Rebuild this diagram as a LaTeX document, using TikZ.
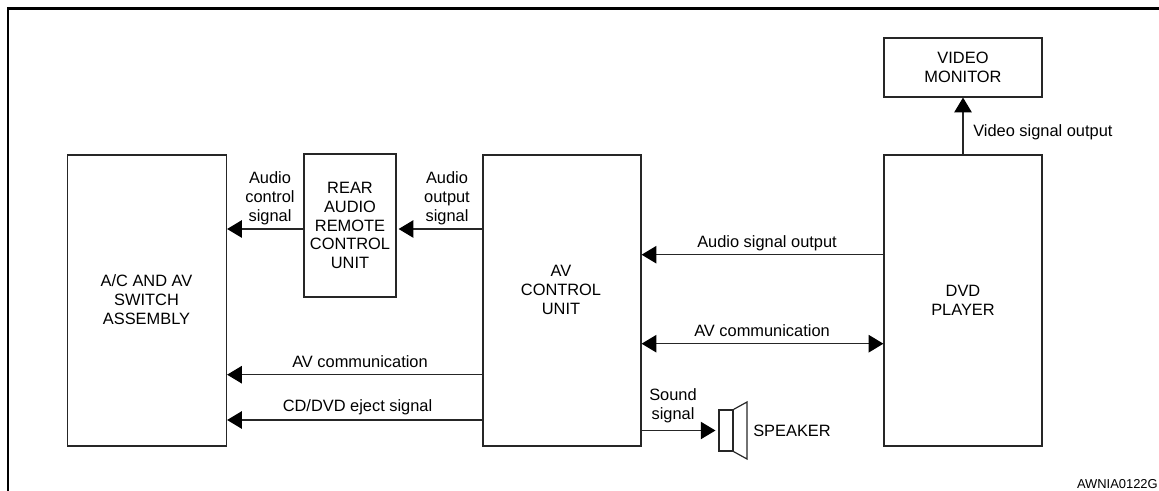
\documentclass[tikz,border=0pt]{standalone}
\usepackage{fontspec}
\setmainfont{Liberation Sans}
\usetikzlibrary{arrows.meta}
\tikzstyle{boxStyle}=[shape = rectangle, draw = black!85, line width = 0.9pt, inner sep = 0pt, align = center]
\tikzstyle{sigStyle}=[draw = black!85, line width = 0.9pt, -{Triangle[length = 11pt, width = 13pt, color = black]}]
\tikzstyle{bothStyle}=[draw = black!85, line width = 0.9pt, {Triangle[length = 11pt, width = 13pt, color = black]}-{Triangle[length = 11pt, width = 13pt, color = black]}]
\tikzstyle{labelStyle}=[inner sep = 0pt, align = center, font = \fontsize{12.3pt}{14.2pt}\selectfont]
\begin{document}
\begin{tikzpicture}[x = 0.75pt, y = -0.75pt, font = \fontsize{12.3pt}{14.2pt}\selectfont]
\useasboundingbox (0,0) rectangle (1159,491);
\draw[line width = 2.2pt, black] (8,491) -- (8,8.5) -- (1159,8.5);
\node[boxStyle, minimum width = 119.25pt, minimum height = 218.25pt] (vAssembly) at (147,300.5) {};
\node[boxStyle, minimum width = 69pt, minimum height = 107.25pt] (vRear) at (350,225.5) {REAR\\AUDIO\\REMOTE\\CONTROL\\UNIT};
\node[boxStyle, minimum width = 118.5pt, minimum height = 218.25pt] (vControl) at (562,300.5) {};
\node[boxStyle, minimum width = 118.5pt, minimum height = 218.25pt] (vPlayer) at (963,300.5) {DVD\\PLAYER};
\node[boxStyle, minimum width = 118.5pt, minimum height = 44.25pt] (vMonitor) at (963,67.5) {VIDEO\\MONITOR};
\node[boxStyle, minimum width = 10.5pt, minimum height = 30.75pt] (vSpeaker) at (726,430.5) {};
\draw[draw = black!85, line width = 0.9pt] (vSpeaker.north east) -- (747,402) -- (747,459) -- (vSpeaker.south east);
\coordinate (yAudio) at (0,229);
\coordinate (yOutput) at (0,254.7);
\coordinate (yPlayer) at (0,343.7);
\coordinate (yComm) at (0,374.7);
\coordinate (yEject) at (0,420);
\draw[sigStyle] (vRear.west |- yAudio) -- (vAssembly.east |- yAudio);
\draw[sigStyle, shorten > = 1.5pt] (vControl.west |- yAudio) -- (vRear.east |- yAudio);
\draw[sigStyle] (vPlayer.west |- yOutput) -- (vControl.east |- yOutput);
\draw[bothStyle] (vControl.east |- yPlayer) -- (vPlayer.west |- yPlayer);
\draw[sigStyle] (vControl.west |- yComm) -- (vAssembly.east |- yComm);
\draw[sigStyle] (vControl.west |- yEject) -- (vAssembly.east |- yEject);
\draw[sigStyle, shorten > = 2.2pt] (vControl.east |- vSpeaker.west) -- (vSpeaker.west);
\draw[sigStyle] (vPlayer.north) -- (vMonitor.south);
\node[labelStyle] (lAssembly) at (146.5,299.5) {A/C AND AV\\SWITCH\\ASSEMBLY};
\node[labelStyle] (lUnit) at (561,290) {AV\\CONTROL\\UNIT};
\node[labelStyle] (lControl) at (270,198) {Audio\\control\\signal};
\node[labelStyle] (lOutput) at (447,198) {Audio\\output\\signal};
\node[labelStyle] (lSignal) at (767,243) {Audio signal output};
\node[labelStyle] (lPlayer) at (762,331) {AV communication};
\node[labelStyle] (lComm) at (360,362) {AV communication};
\node[labelStyle] (lEject) at (357.5,407) {CD/DVD eject signal};
\node[labelStyle] (lSound) at (673,406) {Sound\\signal};
\node[labelStyle, anchor = west] (lSpeaker) at (753,431) {SPEAKER};
\node[labelStyle, anchor = west] (lVideo) at (973,132) {Video signal output};
\node[inner sep = 0pt, anchor = east, font = \fontsize{9.7pt}{11pt}\selectfont] (lCode) at (1158,484) {AWNIA0122G};
\end{tikzpicture}
\end{document}
